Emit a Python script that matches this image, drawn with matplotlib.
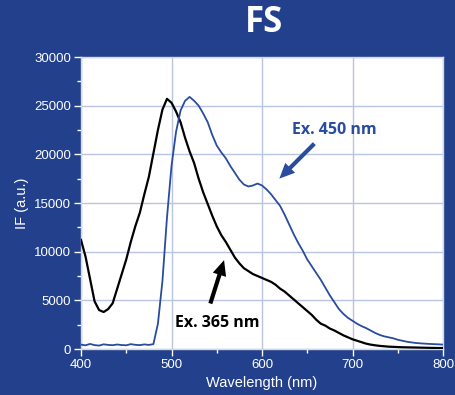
import matplotlib
matplotlib.use("Agg")
import matplotlib.pyplot as plt
import numpy as np

# ---------------- data ----------------
wavelength = list(range(400, 805, 5))

ex365 = [11200, 9500, 7200, 4900, 4000, 3800, 4100, 4700, 6200, 7700,
         9200, 11000, 12600, 14000, 15900, 17700, 20100, 22500, 24600, 25700,
         25300, 24400, 23300, 21700, 20300, 19100, 17500, 16100, 14900, 13700,
         12600, 11700, 11000, 10200, 9400, 8800, 8300, 8000, 7700, 7500,
         7300, 7100, 6900, 6600, 6200, 5900, 5500, 5100, 4700, 4300,
         3900, 3500, 3000, 2600, 2400, 2100, 1900, 1650, 1400, 1200,
         1000, 850, 700, 550, 450, 380, 320, 280, 240, 220,
         200, 180, 170, 160, 150, 140, 130, 120, 110, 100, 100]

ex450 = [450, 380, 520, 400, 350, 480, 420, 390, 460, 410,
         380, 500, 430, 400, 470, 420, 500, 2600, 7000, 13500,
         18800, 22300, 24500, 25500, 25900, 25500, 25000, 24200, 23300, 22000,
         20900, 20200, 19600, 18800, 18100, 17400, 16900, 16700, 16800, 17000,
         16800, 16400, 15900, 15300, 14700, 13800, 12800, 11800, 10900, 10100,
         9200, 8500, 7800, 7100, 6300, 5500, 4800, 4100, 3600, 3200,
         2900, 2600, 2350, 2150, 1900, 1650, 1450, 1300, 1200, 1100,
         950, 850, 750, 680, 620, 580, 550, 520, 500, 480, 450]

x_ticks = [400, 500, 600, 700, 800]
y_ticks = [0, 5000, 10000, 15000, 20000, 25000, 30000]

title = "FS"
xlabel = "Wavelength (nm)"
ylabel = "IF (a.u.)"
label_365 = "Ex. 365 nm"
label_450 = "Ex. 450 nm"

# ---------------- style ----------------
BG = "#22408c"
BLUE = "#2a4c9e"
GRID = "#b9c3e2"

fig = plt.figure(figsize=(4.55, 3.95), dpi=100, facecolor=BG)
ax = fig.add_axes([81 / 455, 1 - 349 / 395, (443 - 81) / 455, (349 - 57) / 395])
ax.set_facecolor("white")

ax.plot(wavelength, ex365, color="black", lw=1.6, zorder=3)
ax.plot(wavelength, ex450, color=BLUE, lw=1.3, zorder=4)

ax.set_xlim(400, 800)
ax.set_ylim(0, 30000)
ax.set_xticks(x_ticks)
ax.set_yticks(y_ticks)
ax.set_xticks([450, 550, 650, 750], minor=True)
ax.set_yticks([2500, 7500, 12500, 17500, 22500, 27500], minor=True)
ax.grid(True, which="major", color=GRID, lw=1.0, zorder=0)
ax.set_axisbelow(True)

tickfont = "Liberation Sans"
ax.tick_params(axis="both", which="major", direction="out", length=5, width=1,
               colors="white", labelsize=9.5, pad=2)
ax.tick_params(axis="both", which="minor", direction="out", length=3, width=1,
               colors="white")
for lbl in ax.get_xticklabels() + ax.get_yticklabels():
    lbl.set_fontfamily(tickfont)
for s in ax.spines.values():
    s.set_color("#d4d8e6")
    s.set_linewidth(1.0)

ax.set_xlabel(xlabel, color="white", fontsize=10.5, family=tickfont, labelpad=4)
ax.set_ylabel(ylabel, color="white", fontsize=10.5, family=tickfont, labelpad=4)

fig.text(264 / 455, 1 - 23 / 395, title, color="white", fontsize=25,
         fontweight="bold", family="Open Sans", ha="center", va="center")

# annotations
ax.text(680, 22500, label_450, color=BLUE, fontsize=11.5, fontweight="bold",
        family="Open Sans", ha="center", va="center")
ax.annotate("", xy=(617, 17300), xytext=(660, 21300),
            arrowprops=dict(arrowstyle="simple,head_length=1.1,head_width=1.0,tail_width=0.3",
                            color=BLUE, lw=0))
ax.text(551, 2650, label_365, color="black", fontsize=11.5, fontweight="bold",
        family="Open Sans", ha="center", va="center", zorder=6)
ax.annotate("", xy=(559, 9400), xytext=(542, 4400),
            arrowprops=dict(arrowstyle="simple,head_length=1.1,head_width=1.0,tail_width=0.3",
                            color="black", lw=0))

fig.savefig("out.png", dpi=100, facecolor=BG)
